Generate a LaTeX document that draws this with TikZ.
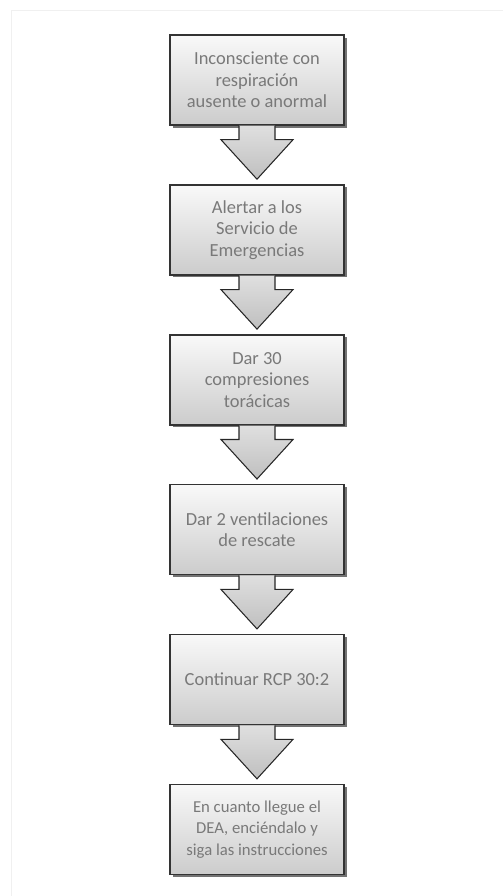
\documentclass[tikz,border=0pt]{standalone}
\usepackage{fontspec}
\setmainfont{Carlito}
\usetikzlibrary{positioning,calc,shadows}

\begin{document}
\begin{tikzpicture}[
  stepbox/.style={draw=black!80,thick,top color=gray!5,bottom color=gray!40,minimum width=3.48cm,minimum height=1.8cm,align=center,text=gray!95!black,font=\fontsize{10.5}{12.3}\selectfont,drop shadow={shadow xshift=0.05cm,shadow yshift=-0.05cm,fill=black,opacity=0.55}},
  blockarrow/.style={draw=black!85,semithick,top color=gray!25,bottom color=gray!50},
  node distance=1.17cm]
  \useasboundingbox (0,0) rectangle (10.06,-17.92);
  \draw[gray!12] (10.06,-0.2) -- (0.22,-0.2) -- (0.22,-17.92);
  \node[stepbox] (s1) at (5.14,-1.6) {Inconsciente con\\respiración\\ausente o anormal};
  \node[stepbox,below=of s1] (s2) {Alertar a los\\Servicio de\\Emergencias};
  \node[stepbox,below=of s2] (s3) {Dar 30\\compresiones\\torácicas};
  \node[stepbox,below=of s3] (s4) {Dar 2 ventilaciones\\de rescate};
  \node[stepbox,below=of s4] (s5) {Continuar RCP 30:2};
  \node[stepbox,below=of s5,font=\fontsize{9.5}{12.3}\selectfont] (s6) {En cuanto llegue el\\DEA, enciéndalo y\\siga las instrucciones};
  \foreach \a/\b in {s1/s2,s2/s3,s3/s4,s4/s5,s5/s6}
    \draw[blockarrow] ($(\a.south)+(-0.36,0)$) -- ++(0,-0.28) -- ++(-0.36,0) -- ($(\b.north)+(0,0.1)$) -- ($(\a.south)+(0.72,-0.28)$) -- ++(-0.36,0) -- ++(0,0.28);
\end{tikzpicture}
\end{document}
